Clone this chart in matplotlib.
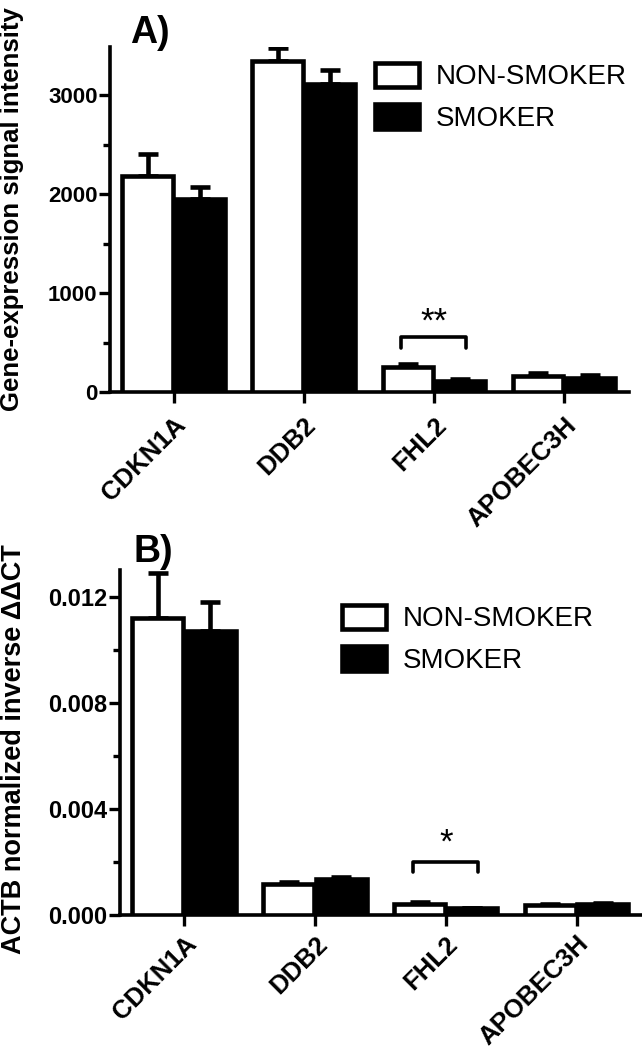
import matplotlib
matplotlib.use('Agg')
from matplotlib import pyplot as plt
from matplotlib.ticker import MultipleLocator, FormatStrFormatter
import numpy as np

plt.rcParams['font.family'] = ['Liberation Sans', 'DejaVu Sans']

genes = ['CDKN1A', 'DDB2', 'FHL2', 'APOBEC3H']
groups = ['NON-SMOKER', 'SMOKER']

# A) microarray signal intensity
a_nonsmoker = [2190, 3345, 250, 165]
a_nonsmoker_err = [215, 135, 35, 25]
a_smoker = [1955, 3115, 110, 145]
a_smoker_err = [115, 140, 20, 25]

# B) qPCR, ACTB normalized inverse ddCT
b_nonsmoker = [0.0112, 0.00115, 0.00042, 0.00038]
b_nonsmoker_err = [0.0017, 0.00008, 0.00006, 0.00005]
b_smoker = [0.0107, 0.00135, 0.00025, 0.00042]
b_smoker_err = [0.0011, 0.00007, 0.00003, 0.00005]

W, H = 642, 1050
fig = plt.figure(figsize=(W / 100, H / 100), dpi=100)


def panel(rect, ns, ns_err, sm, sm_err, ylim, major, minor, fmt,
          ylabel, tick_fs, label_fs, sig, leg_pos, xpad):
    ax = fig.add_axes(rect)
    x = np.arange(len(genes))
    w = 0.39
    lw = 3.3
    ax.bar(x - 0.2, ns, w, color='white', edgecolor='black', linewidth=lw,
           label=groups[0], zorder=3)
    ax.bar(x + 0.2, sm, w, color='black', edgecolor='black', linewidth=lw,
           label=groups[1], zorder=3)
    ekw = dict(fmt='none', ecolor='black', elinewidth=3.3, capsize=7.5,
               capthick=3.3, zorder=2)
    ax.errorbar(x - 0.2, ns, yerr=[np.zeros(len(ns)), ns_err], **ekw)
    ax.errorbar(x + 0.2, sm, yerr=[np.zeros(len(sm)), sm_err], **ekw)

    # significance bracket
    i, yb, drop, star, dy = sig
    ax.plot([i - 0.25, i - 0.25, i + 0.25, i + 0.25],
            [yb - drop, yb, yb, yb - drop], color='black', lw=2.6,
            solid_capstyle='round', clip_on=False)
    ax.text(i, yb + dy, star, ha='center', va='center', fontsize=25)

    ax.set_xlim(-0.49, 3.5)
    ax.set_ylim(*ylim)
    ax.set_xticks(x)
    ax.set_xticklabels(genes, rotation=45, ha='right', rotation_mode='anchor',
                       fontsize=18.5, fontweight='bold')
    ax.yaxis.set_major_locator(MultipleLocator(major))
    ax.yaxis.set_minor_locator(MultipleLocator(minor))
    ax.yaxis.set_major_formatter(FormatStrFormatter(fmt))
    for lab in ax.get_yticklabels():
        lab.set_fontweight('bold')
        lab.set_fontsize(tick_fs)
    ax.tick_params(axis='both', which='major', length=8, width=2.4, pad=1)
    ax.tick_params(axis='y', which='minor', length=5, width=2.4)
    ax.tick_params(axis='x', pad=xpad)
    for s in ['top', 'right']:
        ax.spines[s].set_visible(False)
    for s in ['left', 'bottom']:
        ax.spines[s].set_linewidth(2.6)
    ax.set_ylabel(ylabel, fontsize=label_fs, fontweight='bold')
    ax.legend(loc='upper left', bbox_to_anchor=leg_pos, frameon=False,
              fontsize=20, handlelength=1.6, handleheight=1.0,
              handletextpad=0.6, labelspacing=0.5, borderpad=0,
              borderaxespad=0)
    return ax


ax_a = panel([110 / W, 1 - 392 / H, 519 / W, 345 / H],
             a_nonsmoker, a_nonsmoker_err, a_smoker, a_smoker_err,
             (0, 3490), 1000, 500, '%d',
             'Gene-expression signal intensity', 16, 18.5,
             (2, 555, 110, '**', 150), (0.51, 0.955), 7)
ax_a.yaxis.set_label_coords(-0.165, 0.53)

ax_b = panel([120 / W, 1 - 915 / H, 522 / W, 345 / H],
             b_nonsmoker, b_nonsmoker_err, b_smoker, b_smoker_err,
             (0, 0.0130), 0.004, 0.002, '%.3f',
             'ACTB normalized inverse \u0394\u0394CT', 17, 19.5,
             (2, 0.0020, 0.00038, '*', 0.00072), (0.425, 0.9), 4)
ax_b.yaxis.set_label_coords(-0.178, 0.48)

fig.text(130 / W, 1 - 43 / H, 'A)', fontsize=27, fontweight='bold',
         ha='left', va='baseline')
fig.text(133 / W, 1 - 562 / H, 'B)', fontsize=27, fontweight='bold',
         ha='left', va='baseline')

fig.savefig('out.png', dpi=100)
